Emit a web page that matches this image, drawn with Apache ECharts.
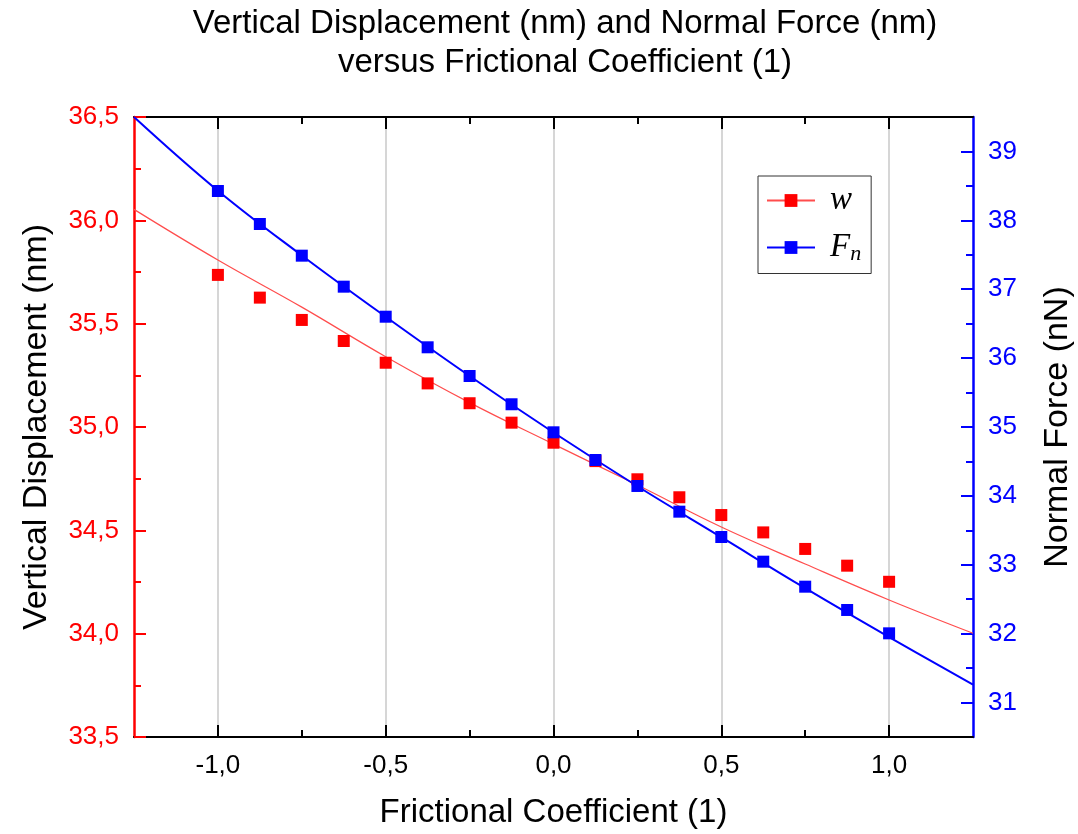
<!DOCTYPE html>
<html>
<head>
<meta charset="utf-8">
<script src="https://cdn.jsdelivr.net/npm/echarts@6/dist/echarts.min.js"></script>
<style>
  html, body { margin: 0; padding: 0; background: #ffffff; }
  #chart { width: 1078px; height: 834px; }
</style>
</head>
<body>
<div id="chart"></div>
<script>
// ---- data ----
const xValues = [-1.0, -0.875, -0.75, -0.625, -0.5, -0.375, -0.25, -0.125, 0.0,
                 0.125, 0.25, 0.375, 0.5, 0.625, 0.75, 0.875, 1.0];
const wValues = [35.736, 35.626, 35.518, 35.416, 35.311, 35.211, 35.115, 35.021, 34.924,
                 34.835, 34.747, 34.660, 34.574, 34.490, 34.410, 34.329, 34.251];
const fnValues = [38.426, 37.947, 37.487, 37.037, 36.601, 36.157, 35.740, 35.330, 34.923,
                  34.521, 34.144, 33.771, 33.403, 33.045, 32.682, 32.344, 32.005];
// fitted curves
const fitX = [-1.25, -1.0, -0.75, -0.5, -0.25, 0.0, 0.25, 0.5, 0.75, 1.0, 1.25];
const wFit = [36.053, 35.808, 35.580, 35.340, 35.118, 34.917, 34.719, 34.516, 34.337, 34.163, 34.002];
const fnFit = [39.50, 38.43, 37.49, 36.60, 35.74, 34.92, 34.14, 33.40, 32.66, 31.95, 31.26];
// tick labels
const xTicks = [-1.0, -0.5, 0.0, 0.5, 1.0];
const xMinorTicks = [-0.75, -0.25, 0.25, 0.75];
const fnTicks = [31, 32, 33, 34, 35, 36, 37, 38, 39];
const fnMinorTicks = [31.5, 32.5, 33.5, 34.5, 35.5, 36.5, 37.5, 38.5];

const titleLine1 = 'Vertical Displacement (nm) and Normal Force (nm)';
const titleLine2 = 'versus Frictional Coefficient (1)';
const xName = 'Frictional Coefficient (1)';
const yLeftName = 'Vertical Displacement (nm)';
const yRightName = 'Normal Force (nN)';

const FONT = 'Liberation Sans, Arial, sans-serif';
const comma = v => Number(v).toFixed(1).replace('.', ',');
const zip = (xs, ys) => xs.map((x, i) => [x, ys[i]]);

const chart = echarts.init(document.getElementById('chart'), null, { renderer: 'canvas' });

const option = {
  backgroundColor: '#ffffff',
  animation: false,
  graphic: [
    { type: 'text', x: 565, y: 24, silent: true,
      style: { text: titleLine1, fill: '#000', font: '33px ' + FONT, textAlign: 'center', textVerticalAlign: 'middle' } },
    { type: 'text', x: 565, y: 63, silent: true,
      style: { text: titleLine2, fill: '#000', font: '33px ' + FONT, textAlign: 'center', textVerticalAlign: 'middle' } }
  ],
  grid: { left: 134, right: 105, top: 117, bottom: 97, containLabel: false, outerBoundsMode: 'none' },
  legend: {
    data: ['w', 'Fn'],
    orient: 'vertical',
    left: 758,
    top: 176,
    width: 112,
    padding: [8, 10, 8, 8],
    itemGap: 14,
    itemWidth: 48,
    itemHeight: 16,
    borderColor: '#333',
    borderWidth: 1,
    formatter: name => name === 'w' ? '{it|w}' : '{it|F}{sub|n}',
    textStyle: {
      padding: [0, 0, 0, 10],
      rich: {
        it: { fontFamily: 'Liberation Serif, serif', fontStyle: 'italic', fontSize: 33, color: '#000', height: 36 },
        sub: { fontFamily: 'Liberation Serif, serif', fontStyle: 'italic', fontSize: 22, color: '#000', height: 36, padding: [14, 0, 0, 0] }
      }
    }
  },
  xAxis: [
    {
      type: 'value', position: 'bottom', min: -1.25, max: 1.25,
      name: xName, nameLocation: 'middle', nameGap: 59,
      nameTextStyle: { fontFamily: FONT, fontSize: 33, color: '#000' },
      axisLine: { show: true, onZero: false, lineStyle: { color: '#000', width: 2 } },
      axisTick: { show: true, inside: true, length: 12, lineStyle: { color: '#000', width: 2 }, customValues: xTicks },
      axisLabel: { show: true, customValues: xTicks, formatter: comma, margin: 16, fontFamily: FONT, fontSize: 26, color: '#000' },
      splitLine: { show: true, lineStyle: { color: '#c8c8c8', width: 1.5 } }
    },
    {
      type: 'value', position: 'bottom', min: -1.25, max: 1.25,
      axisLine: { show: false, onZero: false },
      axisTick: { show: true, inside: true, length: 7, lineStyle: { color: '#000', width: 2 }, customValues: xMinorTicks },
      axisLabel: { show: false },
      splitLine: { show: false }
    },
    {
      type: 'value', position: 'top', min: -1.25, max: 1.25,
      axisLine: { show: true, onZero: false, lineStyle: { color: '#000', width: 2 } },
      axisTick: { show: true, inside: true, length: 12, lineStyle: { color: '#000', width: 2 }, customValues: xTicks },
      axisLabel: { show: false },
      splitLine: { show: false }
    },
    {
      type: 'value', position: 'top', min: -1.25, max: 1.25,
      axisLine: { show: false, onZero: false },
      axisTick: { show: true, inside: true, length: 7, lineStyle: { color: '#000', width: 2 }, customValues: xMinorTicks },
      axisLabel: { show: false },
      splitLine: { show: false }
    }
  ],
  yAxis: [
    {
      type: 'value', position: 'left', min: 33.5, max: 36.5, interval: 0.5,
      name: yLeftName, nameLocation: 'middle', nameGap: 80,
      nameTextStyle: { fontFamily: FONT, fontSize: 34, color: '#000' },
      axisLine: { show: true, onZero: false, lineStyle: { color: '#ff0000', width: 2.5 } },
      axisTick: { show: true, inside: true, length: 12, lineStyle: { color: '#ff0000', width: 2 } },
      minorTick: { show: true, splitNumber: 2, length: 7, lineStyle: { color: '#ff0000', width: 2 } },
      axisLabel: { formatter: comma, margin: 15, fontFamily: FONT, fontSize: 26, color: '#ff0000' },
      splitLine: { show: false }
    },
    {
      type: 'value', position: 'right', min: 30.5, max: 39.5,
      name: yRightName, nameLocation: 'middle', nameGap: 68,
      nameTextStyle: { fontFamily: FONT, fontSize: 34, color: '#000' },
      axisLine: { show: true, onZero: false, lineStyle: { color: '#0000ff', width: 2.5 } },
      axisTick: { show: true, inside: true, length: 12, lineStyle: { color: '#0000ff', width: 2 }, customValues: fnTicks },
      axisLabel: { customValues: fnTicks, margin: 15, fontFamily: FONT, fontSize: 26, color: '#0000ff' },
      splitLine: { show: false }
    },
    {
      type: 'value', position: 'right', min: 30.5, max: 39.5,
      axisLine: { show: false, onZero: false },
      axisTick: { show: true, inside: true, length: 7, lineStyle: { color: '#0000ff', width: 2 }, customValues: fnMinorTicks },
      axisLabel: { show: false },
      splitLine: { show: false }
    }
  ],
  series: [
    {
      name: 'w', type: 'line', xAxisIndex: 0, yAxisIndex: 0,
      data: zip(fitX, wFit), smooth: 0.4, symbol: 'rect', symbolSize: 12, showSymbol: false,
      itemStyle: { color: '#ff0000' },
      lineStyle: { color: '#ff4d4d', width: 1.2 }, z: 2, silent: true
    },
    {
      name: 'Fn', type: 'line', xAxisIndex: 0, yAxisIndex: 1,
      data: zip(fitX, fnFit), smooth: 0.4, symbol: 'rect', symbolSize: 12, showSymbol: false,
      itemStyle: { color: '#0000ff' },
      lineStyle: { color: '#0000ff', width: 2 }, z: 2, silent: true
    },
    {
      name: 'w points', type: 'scatter', xAxisIndex: 0, yAxisIndex: 0,
      data: zip(xValues, wValues), symbol: 'rect', symbolSize: 12,
      itemStyle: { color: '#ff0000', opacity: 1 }, z: 3
    },
    {
      name: 'Fn points', type: 'scatter', xAxisIndex: 0, yAxisIndex: 1,
      data: zip(xValues, fnValues), symbol: 'rect', symbolSize: 12,
      itemStyle: { color: '#0000ff', opacity: 1 }, z: 4
    }
  ]
};
chart.setOption(option);
</script>
</body>
</html>
